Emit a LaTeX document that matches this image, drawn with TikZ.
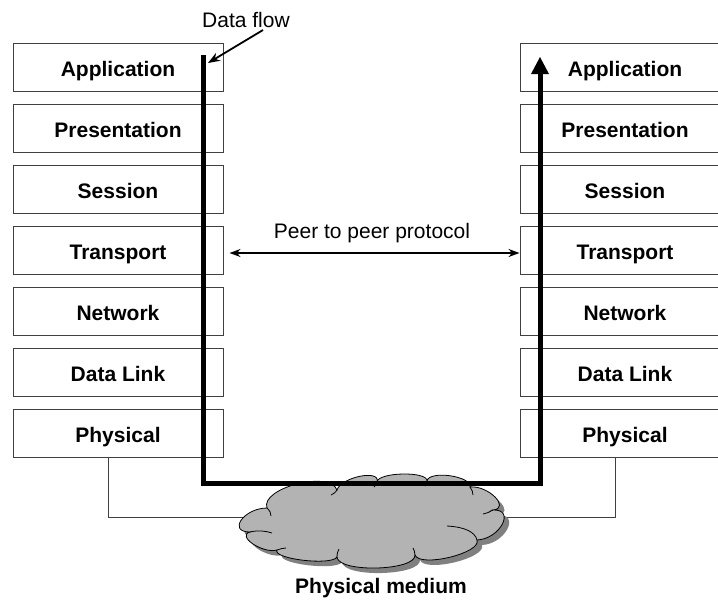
\documentclass[tikz,border=0pt]{standalone}
\usepackage{fontspec}
\setmainfont{Liberation Sans}
\usetikzlibrary{arrows.meta}
\definecolor{boxline}{HTML}{404040}
\definecolor{cloudfill}{HTML}{B3B3B3}
\definecolor{cloudshadow}{HTML}{808080}
\tikzset{
  layer/.style={draw=boxline, line width=1pt, fill=white, minimum width=210pt, minimum height=48pt,
    inner sep=0pt, text height=19pt, text depth=0pt, font=\fontsize{21}{25}\selectfont\bfseries},
  lbl/.style={inner sep=0pt, anchor=base, font=\fontsize{21}{25}\selectfont},
  flow/.style={line width=5pt, black},
  thin/.style={draw=boxline, line width=1pt},
  peer/.style={line width=2pt, {Stealth[length=11pt,width=8pt]}-{Stealth[length=11pt,width=8pt]}},
}
\begin{document}
\begin{tikzpicture}[x=1pt,y=-1pt]
\useasboundingbox (0,0) rectangle (718,603);
\clip (0,0) rectangle (718,603);
% thin lines to the medium
\coordinate (cl) at (250,517);
\coordinate (cr) at (498,517);
% left stack
\node[layer] (L1) at (118,67) {Application};
\node[layer] (L2) at (118,128) {Presentation};
\node[layer] (L3) at (118,189) {Session};
\node[layer] (L4) at (118,250) {Transport};
\node[layer] (L5) at (118,311) {Network};
\node[layer] (L6) at (118,372) {Data Link};
\node[layer] (L7) at (118,433) {Physical};
% right stack
\node[layer] (R1) at (625,67) {Application};
\node[layer] (R2) at (625,128) {Presentation};
\node[layer] (R3) at (625,189) {Session};
\node[layer] (R4) at (625,250) {Transport};
\node[layer] (R5) at (625,311) {Network};
\node[layer] (R6) at (625,372) {Data Link};
\node[layer] (R7) at (625,433) {Physical};
\draw[thin] (L7.south -| 108,0) |- (cl);
\draw[thin] (R7.south -| 615,0) |- (cr);
% cloud shadow and cloud
\def\cloudpath{(250,532) .. controls (227,532) and (244,508) .. (267,508)
 .. controls (260,488) and (330,470) .. (337,490)
 .. controls (341,477) and (381,469) .. (377,482)
 .. controls (378,472) and (428,471) .. (427,481)
 .. controls (429,470) and (472,476) .. (470,487)
 .. controls (488,485) and (511,508) .. (493,510)
 .. controls (516,509) and (500,539) .. (477,540)
 .. controls (482,553) and (420,568) .. (415,555)
 .. controls (416,571) and (338,573) .. (337,557)
 .. controls (332,566) and (272,559) .. (277,550)
 .. controls (263,554) and (236,536) .. (250,532) -- cycle}
\begin{scope}[shift={(5,5)}]
\fill[cloudshadow] \cloudpath;
\end{scope}
\filldraw[fill=cloudfill, draw=black, line width=0.8pt] \cloudpath;
\draw[line width=0.8pt] (250,532) .. controls (258,530) and (266,531) .. (272,533);
\draw[line width=0.8pt] (267,508) .. controls (270,511) and (271,513) .. (271,516);
\draw[line width=0.8pt] (337,490) .. controls (335,493) and (333,494) .. (331,495);
\draw[line width=0.8pt] (377,482) .. controls (376,485) and (375,486) .. (374,487);
\draw[line width=0.8pt] (427,481) .. controls (427,484) and (426,485) .. (425,486);
\draw[line width=0.8pt] (470,487) .. controls (472,490) and (473,492) .. (473,495);
\draw[line width=0.8pt] (493,510) .. controls (490,512) and (487,513) .. (483,514);
\draw[line width=0.8pt] (477,540) .. controls (475,532) and (465,527) .. (447,526);
\draw[line width=0.8pt] (415,555) .. controls (415,552) and (414,550) .. (413,548);
\draw[line width=0.8pt] (337,557) .. controls (337,553) and (338,551) .. (339,549);
\draw[line width=0.8pt] (277,550) .. controls (280,549) and (283,548) .. (286,548);
% data flow path
\draw[flow] (203,55) -- (203,483) -- (540,483) -- (540,74);
\fill (540,57) -- (549,74) -- (531,74) -- cycle;
\coordinate (flowtop) at (208,63);
% labels
\node[lbl] (df) at (246,27) {Data flow};
\draw[line width=1.8pt, -{Stealth[length=12pt,width=9pt]}] (263,30) -- (flowtop);
\node[lbl] (pp) at (372,238) {Peer to peer protocol};
\draw[peer] (L4.east) ++(6,3) coordinate (pl) -- (R4.west |- pl);
\node[lbl, font=\fontsize{21}{25}\selectfont\bfseries] (pm) at (381,593) {Physical medium};
\end{tikzpicture}
\end{document}
